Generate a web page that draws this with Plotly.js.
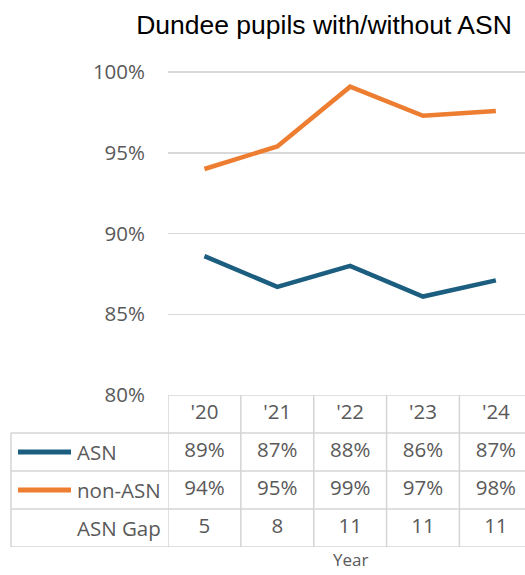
<!DOCTYPE html>
<html>
<head>
<meta charset="utf-8">
<script src="https://cdn.plot.ly/plotly-3.0.1.min.js"></script>
<style>html,body{margin:0;padding:0;background:#fff;}#chart{width:525px;height:575px;}</style>
</head>
<body>
<div id="chart"></div>
<script>
// ---- data ----
const years = ["'20", "'21", "'22", "'23", "'24"];
const asn = [88.6, 86.7, 88.0, 86.1, 87.1];
const nonAsn = [94.0, 95.4, 99.1, 97.3, 97.6];
const asnGap = [5, 8, 11, 11, 11];
const seriesNames = ["ASN", "non-ASN"];
const gapLabel = "ASN Gap";
const chartTitle = "Dundee pupils with/without ASN";
const xTitle = "Year";

// ---- styles ----
const cBlue = "#1b5e80";
const cOrange = "#ed7d31";
const cText = "#595959";
const cGrid = "#d9d9d9";
const cBorder = "#d4d4d4";
const tFont = "'Open Sans', 'DejaVu Sans', sans-serif";
const fs = 20.5;

// table rows on y2 (row centres)
const rowHeader = 3.5, rowAsn = 2.5, rowNon = 1.5, rowGap = 0.5;
const pct = v => Math.round(v) + "%";

const traces = [
  {x: years, y: asn, type: "scatter", mode: "lines", name: seriesNames[0],
   line: {color: cBlue, width: 4.5}, xaxis: "x", yaxis: "y", hoverinfo: "skip"},
  {x: years, y: nonAsn, type: "scatter", mode: "lines", name: seriesNames[1],
   line: {color: cOrange, width: 4.5}, xaxis: "x", yaxis: "y", hoverinfo: "skip"},
  {x: years.concat(years, years, years),
   y: years.map(() => rowHeader).concat(years.map(() => rowAsn), years.map(() => rowNon), years.map(() => rowGap)),
   text: years.concat(asn.map(pct), nonAsn.map(pct), asnGap.map(String)),
   type: "scatter", mode: "text", textposition: "middle center",
   textfont: {family: tFont, size: fs, color: cText},
   xaxis: "x", yaxis: "y2", hoverinfo: "skip", showlegend: false, cliponaxis: false}
];

const L = 168, W = 525, plotW = W - L;
const px = p => (p - L) / plotW; // pixel -> paper x helper for the outside label column

const shapes = [];
// horizontal table lines
[0, 1, 2, 3].forEach(r => shapes.push({type: "line", xref: "paper", yref: "y2", x0: px(11), x1: 1, y0: r, y1: r, line: {color: cBorder, width: 1.5}}));
shapes.push({type: "line", xref: "paper", yref: "y2", x0: 0, x1: 1, y0: 4, y1: 4, line: {color: cBorder, width: 1.5}});
// vertical table lines on category boundaries
years.forEach((y, i) => shapes.push({type: "line", xref: "x", yref: "y2", x0: i - 0.5, x1: i - 0.5, y0: 0, y1: 4, line: {color: cBorder, width: 1.5}}));
shapes.push({type: "line", xref: "paper", yref: "y2", x0: px(11), x1: px(11), y0: 0, y1: 3, line: {color: cBorder, width: 1.5}});
// legend keys
shapes.push({type: "line", xref: "paper", yref: "y2", x0: px(18), x1: px(71), y0: rowAsn, y1: rowAsn, line: {color: cBlue, width: 5}});
shapes.push({type: "line", xref: "paper", yref: "y2", x0: px(18), x1: px(71), y0: rowNon, y1: rowNon, line: {color: cOrange, width: 5}});

const annotations = [
  {xref: "paper", yref: "y2", x: px(75), y: rowAsn, text: seriesNames[0], showarrow: false, xanchor: "left", font: {family: tFont, size: fs, color: cText}},
  {xref: "paper", yref: "y2", x: px(75), y: rowNon, text: seriesNames[1], showarrow: false, xanchor: "left", font: {family: tFont, size: fs, color: cText}},
  {xref: "paper", yref: "y2", x: px(163), y: rowGap, text: gapLabel, showarrow: false, xanchor: "right", font: {family: tFont, size: fs, color: cText}},
  {xref: "paper", yref: "paper", x: px(350), y: 0, yshift: 0, borderpad: 0, text: xTitle, showarrow: false, xanchor: "center", yanchor: "top", font: {family: tFont, size: 17, color: cText}}
];

const tableH = 152, plotTop = 56, plotBot = 28;
const plotH = 575 - plotTop - plotBot;
const split = tableH / plotH;

const layout = {
  width: 525, height: 575,
  margin: {l: L, r: 0, t: plotTop, b: plotBot},
  paper_bgcolor: "#fff", plot_bgcolor: "#fff",
  showlegend: false,
  title: {text: chartTitle, font: {family: "'Liberation Sans', Arial, sans-serif", size: 26.5, color: "#000"},
          x: 324 / 525, xanchor: "center", xref: "container", y: 1 - 25 / 575, yanchor: "middle", yref: "container"},
  xaxis: {type: "category", categoryarray: years, range: [-0.5, 4.4], anchor: "y2",
          showticklabels: false, showgrid: false, zeroline: false, showline: false, ticks: ""},
  yaxis: {domain: [split, 1], range: [80, 101], dtick: 5, tick0: 80, ticksuffix: "%",
          showgrid: true, gridcolor: cGrid, gridwidth: 1.5, zeroline: false, showline: false, ticks: "",
          tickfont: {family: tFont, size: fs, color: cText}, ticklabelstandoff: 22, anchor: "x"},
  yaxis2: {domain: [0, split], range: [0, 4], showgrid: false, zeroline: false, showline: false,
           showticklabels: false, ticks: "", anchor: "x"},
  shapes: shapes,
  annotations: annotations
};

Plotly.newPlot("chart", traces, layout, {staticPlot: true, displayModeBar: false});
</script>
</body>
</html>
